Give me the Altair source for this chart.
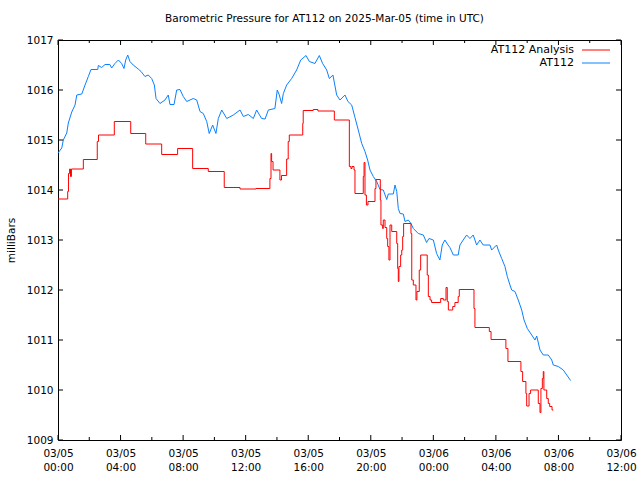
import altair as alt
import pandas as pd

# Time in hours since 2025-03-05 00:00 UTC, pressure in millibars
at112_hours = [0.00, 0.24, 0.34, 0.56, 0.66, 0.88, 1.09, 1.20, 1.52, 1.73, 1.94, 2.11, 2.54, 2.58,
               2.79, 3.01, 3.32, 3.43, 3.64, 3.86, 4.07, 4.22, 4.33, 4.46, 4.60, 4.81, 5.13, 5.31,
               5.56, 5.77, 5.99, 6.16, 6.27, 6.52, 6.84, 7.05, 7.16, 7.42, 7.59, 7.80, 8.01, 8.23,
               8.44, 8.65, 8.87, 9.08, 9.29, 9.51, 9.67, 9.89, 10.10, 10.25, 10.47, 10.79, 11.21,
               11.64, 11.85, 12.17, 12.49, 12.70, 13.02, 13.24, 13.45, 13.87, 14.02, 14.15, 14.30,
               14.41, 14.62, 14.94, 15.26, 15.52, 15.86, 16.07, 16.43, 16.71, 16.92, 17.18, 17.35,
               17.58, 17.82, 18.03, 18.35, 18.54, 18.78, 18.99, 19.20, 19.42, 19.63, 19.80, 19.95,
               20.16, 20.38, 20.59, 20.80, 21.02, 21.12, 21.44, 21.55, 21.66, 21.76, 21.87, 22.08,
               22.19, 22.40, 22.57, 22.72, 23.04, 23.36, 23.57, 23.72, 24.00, 24.21, 24.42, 24.57,
               24.74, 24.94, 25.06, 25.28, 25.59, 25.70, 25.91, 26.13, 26.34, 26.55, 26.77, 26.98,
               27.19, 27.62, 27.73, 28.05, 28.15, 28.37, 28.58, 28.73, 28.90, 29.01, 29.22, 29.43,
               29.65, 29.80, 30.01, 30.29, 30.50, 30.61, 30.82, 31.03, 31.35, 31.57, 31.67, 31.99,
               32.31, 32.53, 32.78]
at112_mb = [1014.74, 1014.84, 1015.00, 1015.14, 1015.34, 1015.56, 1015.70, 1015.90, 1015.92, 1016.10,
            1016.27, 1016.41, 1016.41, 1016.49, 1016.45, 1016.51, 1016.51, 1016.44, 1016.53, 1016.60,
            1016.53, 1016.43, 1016.60, 1016.70, 1016.57, 1016.50, 1016.42, 1016.37, 1016.27, 1016.30,
            1016.23, 1016.10, 1015.83, 1015.73, 1015.80, 1015.90, 1015.71, 1015.71, 1016.00, 1016.01,
            1015.87, 1015.77, 1015.80, 1015.83, 1015.80, 1015.57, 1015.53, 1015.37, 1015.13, 1015.30,
            1015.13, 1015.43, 1015.60, 1015.43, 1015.50, 1015.60, 1015.47, 1015.51, 1015.43, 1015.60,
            1015.43, 1015.42, 1015.60, 1015.63, 1016.00, 1015.90, 1015.73, 1015.93, 1016.10, 1016.23,
            1016.40, 1016.60, 1016.69, 1016.57, 1016.53, 1016.69, 1016.53, 1016.40, 1016.23, 1016.30,
            1015.90, 1015.80, 1015.90, 1015.77, 1015.70, 1015.45, 1015.20, 1014.93, 1014.77, 1014.60,
            1014.40, 1014.27, 1014.17, 1014.01, 1014.00, 1013.81, 1013.92, 1013.92, 1014.10, 1013.97,
            1013.63, 1013.53, 1013.52, 1013.37, 1013.40, 1013.33, 1013.23, 1013.13, 1013.10, 1012.95,
            1013.03, 1013.00, 1012.73, 1012.60, 1012.90, 1013.00, 1012.90, 1012.85, 1012.70, 1012.70,
            1012.90, 1013.00, 1013.10, 1013.03, 1013.10, 1012.90, 1013.00, 1012.90, 1012.90, 1012.80,
            1012.90, 1012.80, 1012.63, 1012.47, 1012.27, 1012.10, 1012.00, 1011.97, 1011.80, 1011.60,
            1011.40, 1011.23, 1011.10, 1011.00, 1011.08, 1010.80, 1010.70, 1010.70, 1010.60, 1010.50,
            1010.47, 1010.40, 1010.30, 1010.19]

analysis_hours = [0.00, 0.62, 0.67, 0.74, 0.80, 0.86, 1.62, 2.51, 2.59, 3.60, 4.65, 5.61, 6.63, 7.65,
                  8.61, 9.61, 10.63, 11.64, 12.66, 13.55, 13.62, 13.66, 13.75, 14.19, 14.29, 14.62,
                  14.72, 14.79, 15.65, 15.68, 16.32, 16.62, 17.67, 18.63, 18.73, 18.80, 18.93, 18.99,
                  19.52, 19.57, 19.63, 19.72, 19.82, 20.27, 20.33, 20.61, 20.65, 20.76, 20.80, 20.91,
                  21.02, 21.08, 21.16, 21.23, 21.34, 21.66, 21.72, 21.76, 21.80, 21.91, 21.98, 22.04,
                  22.10, 22.57, 22.62, 22.72, 22.89, 22.95, 23.10, 23.19, 23.61, 23.68, 23.79, 23.89,
                  24.47, 24.64, 24.81, 24.89, 24.96, 25.24, 25.38, 25.59, 25.66, 26.60, 26.66, 27.58,
                  27.69, 28.64, 28.77, 29.60, 29.71, 29.92, 29.97, 30.12, 30.22, 30.71, 30.82, 30.88,
                  30.97, 31.03, 31.07, 31.25, 31.35, 31.44, 31.59, 31.67]
analysis_mb = [1013.82, 1013.97, 1014.33, 1014.42, 1014.27, 1014.42, 1014.61, 1014.97, 1015.10, 1015.37,
               1015.13, 1014.92, 1014.71, 1014.83, 1014.43, 1014.37, 1014.05, 1014.02, 1014.03, 1014.23,
               1014.73, 1014.57, 1014.40, 1014.20, 1014.29, 1014.62, 1014.97, 1015.10, 1015.33, 1015.59,
               1015.61, 1015.58, 1015.40, 1014.47, 1014.43, 1014.47, 1014.40, 1013.93, 1014.27, 1014.55,
               1013.90, 1013.70, 1013.77, 1014.03, 1014.21, 1013.80, 1013.30, 1013.23, 1013.40, 1013.25,
               1013.03, 1012.87, 1012.60, 1013.30, 1013.17, 1012.93, 1012.43, 1012.17, 1012.47, 1012.70,
               1012.80, 1013.07, 1013.33, 1013.13, 1012.20, 1012.10, 1011.80, 1011.97, 1012.40, 1012.70,
               1012.30, 1011.87, 1011.80, 1011.75, 1011.83, 1011.80, 1012.05, 1011.77, 1011.60, 1011.67,
               1011.75, 1011.87, 1012.01, 1011.63, 1011.25, 1011.17, 1011.01, 1010.83, 1010.57, 1010.37,
               1010.17, 1009.93, 1009.68, 1009.93, 1010.00, 1009.73, 1009.55, 1010.03, 1010.23, 1010.37,
               1010.00, 1009.83, 1009.73, 1009.67, 1009.60, 1009.60]

x_major = [0, 4, 8, 12, 16, 20, 24, 28, 32, 36]
x_minor = [2, 6, 10, 14, 18, 22, 26, 30, 34]
y_major = [1009, 1010, 1011, 1012, 1013, 1014, 1015, 1016, 1017]

FONT = "DejaVu Sans"
BLUE = "#0a80ff"
RED = "#ff0000"
W, H = 563, 400

blue_df = pd.DataFrame({"hours": at112_hours, "mb": at112_mb})
red_df = pd.DataFrame({"hours": analysis_hours, "mb": analysis_mb})
xmaj_df = pd.DataFrame({"hours": x_major})
xmin_df = pd.DataFrame({"hours": x_minor})
ymaj_df = pd.DataFrame({"mb": y_major})

xscale = alt.Scale(domain=[0, 36], nice=False, zero=False)
yscale = alt.Scale(domain=[1009, 1017], nice=False, zero=False)

label_expr = ("[datum.value < 24 ? '03/05' : '03/06', "
              "(datum.value % 24 < 10 ? '0' : '') + (datum.value % 24) + ':00']")

XAX = alt.Axis(values=x_major, labelExpr=label_expr, ticks=False, domain=False,
               grid=False, title=None, labelPadding=8, labelLineHeight=14,
               labelBaseline="top", labelFlush=False, labelOverlap=False,
               labelFont=FONT, labelFontSize=10.5, labelColor="black")
YAX = alt.Axis(values=y_major, format="d", ticks=False, domain=False, grid=False,
               title="milliBars", titleFont=FONT, titleFontSize=10.5,
               titleFontWeight="normal", titleColor="black",
               titleX=-47, titleY=200, titleBaseline="middle", titleAlign="center",
               labelPadding=5, labelFont=FONT, labelFontSize=10.5, labelColor="black")

def X():
    return alt.X("hours:Q", scale=xscale, axis=XAX)

def Y():
    return alt.Y("mb:Q", scale=yscale, axis=YAX)

blue = alt.Chart(blue_df).mark_line(color=BLUE, strokeWidth=1).encode(x=X(), y=Y())

red = alt.Chart(red_df).mark_line(color=RED, strokeWidth=1, interpolate="step-after").encode(
    x=X(), y=Y())

def xticks(df, length):
    bottom = alt.Chart(df).mark_rule(color="black", strokeWidth=1).encode(
        x=X(), y=alt.value(H), y2=alt.value(H - length))
    top = alt.Chart(df).mark_rule(color="black", strokeWidth=1).encode(
        x=X(), y=alt.value(0), y2=alt.value(length))
    return [bottom, top]

yt_left = alt.Chart(ymaj_df).mark_rule(color="black", strokeWidth=1).encode(
    y=Y(), x=alt.value(0), x2=alt.value(5))
yt_right = alt.Chart(ymaj_df).mark_rule(color="black", strokeWidth=1).encode(
    y=Y(), x=alt.value(W), x2=alt.value(W - 5))

def legend_entry(name, color, ypix):
    df = pd.DataFrame({"name": [name]})
    txt = alt.Chart(df).mark_text(align="right", baseline="middle", font=FONT,
                                  fontSize=11, color="black").encode(
        text="name:N", x=alt.value(516), y=alt.value(ypix))
    line = alt.Chart(df).mark_rule(color=color, strokeWidth=1).encode(
        x=alt.value(524), x2=alt.value(552), y=alt.value(ypix))
    return [txt, line]

layers = [blue, red] + xticks(xmaj_df, 5) + xticks(xmin_df, 3) + [yt_left, yt_right]
layers += legend_entry("AT112 Analysis", RED, 10) + legend_entry("AT112", BLUE, 23)

chart = alt.layer(*layers).properties(
    width=W, height=H,
    title=alt.Title("Barometric Pressure for AT112 on 2025-Mar-05 (time in UTC)",
                    font=FONT, fontSize=10.5, fontWeight="normal", color="black",
                    anchor="middle", dx=-15, offset=11),
    autosize=alt.AutoSizeParams(type="none"),
    padding={"left": 58, "top": 40, "right": 19, "bottom": 40},
    background="white",
).configure_view(stroke="black", strokeWidth=1)

chart.save("out.html", embed_options={"renderer": "svg", "actions": False})
